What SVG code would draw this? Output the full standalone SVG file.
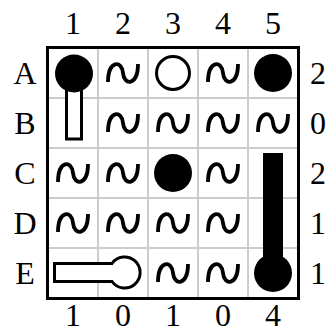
<svg xmlns="http://www.w3.org/2000/svg" width="332" height="334" viewBox="0 0 332 334">
<style>
.lbl{font-family:"Liberation Serif","Times New Roman",serif;font-size:32px;fill:#000;text-anchor:middle}
.grid{stroke:#cccccc;stroke-width:2;fill:none}
.wave{fill:none;stroke:#000;stroke-width:3.8}
.open{fill:#fff;stroke:#000;stroke-width:3}
.solid{fill:#000;stroke:none}
</style>
<defs>
<path id="w" class="wave" d="M -15 9 C -15 -13, -1 -13, 0 0 C 1 13, 15 13, 15 -9"/>
</defs>
<rect width="332" height="334" fill="#fff"/>
<g id="grid">
<path class="grid" d="M98 48V298M148 48V298M198 48V298M248 48V298M48 98H298M48 148H298M48 198H298M48 248H298"/>
<rect x="47.5" y="47.5" width="251" height="251" fill="none" stroke="#000" stroke-width="3"/>
</g>
<g id="labels">
<text class="lbl" x="73" y="34">1</text>
<text class="lbl" x="123" y="34">2</text>
<text class="lbl" x="173" y="34">3</text>
<text class="lbl" x="223" y="34">4</text>
<text class="lbl" x="273" y="34">5</text>
<text class="lbl" x="25" y="84">A</text>
<text class="lbl" x="25" y="134">B</text>
<text class="lbl" x="25" y="184">C</text>
<text class="lbl" x="25" y="234">D</text>
<text class="lbl" x="25" y="284">E</text>
<text class="lbl" x="318" y="84">2</text>
<text class="lbl" x="318" y="134">0</text>
<text class="lbl" x="318" y="184">2</text>
<text class="lbl" x="318" y="234">1</text>
<text class="lbl" x="318" y="284">1</text>
<text class="lbl" x="73" y="326">1</text>
<text class="lbl" x="123" y="326">0</text>
<text class="lbl" x="173" y="326">1</text>
<text class="lbl" x="223" y="326">0</text>
<text class="lbl" x="273" y="326">4</text>
</g>
<g id="waves">
<use href="#w" x="123" y="73"/>
<use href="#w" x="223" y="73"/>
<use href="#w" x="123" y="123"/>
<use href="#w" x="173" y="123"/>
<use href="#w" x="223" y="123"/>
<use href="#w" x="273" y="123"/>
<use href="#w" x="73" y="173"/>
<use href="#w" x="123" y="173"/>
<use href="#w" x="223" y="173"/>
<use href="#w" x="73" y="223"/>
<use href="#w" x="123" y="223"/>
<use href="#w" x="173" y="223"/>
<use href="#w" x="223" y="223"/>
<use href="#w" x="173" y="273"/>
<use href="#w" x="223" y="273"/>
</g>
<g id="ship-a1-b1">
<rect class="open" x="66.5" y="85" width="15" height="54"/>
<circle class="solid" cx="74" cy="73.5" r="19"/>
</g>
<g id="ship-a3">
<circle class="open" cx="173" cy="73" r="16.5"/>
</g>
<g id="ship-a5">
<circle class="solid" cx="273" cy="73" r="19"/>
</g>
<g id="ship-c3">
<circle class="solid" cx="173" cy="173" r="19"/>
</g>
<g id="ship-c5-e5">
<rect class="solid" x="263" y="153" width="20" height="120"/>
<circle class="solid" cx="273" cy="273" r="19"/>
</g>
<g id="ship-e1-e2">
<path class="open" d="M 112 263.5 H 54.5 V 281.5 H 112 A 15.5 15.5 0 1 0 112 263.5 Z"/>
</g>
</svg>
